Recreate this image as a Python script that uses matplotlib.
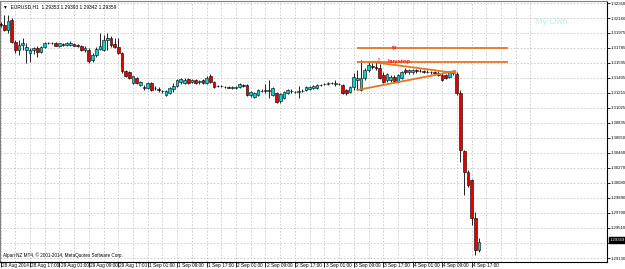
import matplotlib
matplotlib.use("Agg")
import matplotlib.pyplot as plt
import matplotlib.transforms as mtransforms
import numpy as np

# ---------------- data (EURUSD H1, 28 Aug 09:00 .. 4 Sep 19:00) ----------------
opens = [1.32085, 1.32072, 1.32009, 1.32135, 1.31858, 1.31757, 1.31820, 1.31757, 1.31719, 1.31757,
         1.31782, 1.31731, 1.31795, 1.31845, 1.31845, 1.31845, 1.31807, 1.31832, 1.31820, 1.31820,
         1.31832, 1.31820, 1.31807, 1.31757, 1.31757, 1.31630, 1.31694, 1.31769, 1.31757, 1.31883,
         1.31908, 1.31832, 1.31795, 1.31719, 1.31491, 1.31479, 1.31340, 1.31403, 1.31315, 1.31290,
         1.31277, 1.31340, 1.31277, 1.31264, 1.31239, 1.31188, 1.31214, 1.31264, 1.31302, 1.31353,
         1.31340, 1.31390, 1.31353, 1.31378, 1.31353, 1.31378, 1.31340, 1.31428, 1.31353, 1.31302,
         1.31302, 1.31290, 1.31290, 1.31277, 1.31283, 1.31290, 1.31315, 1.31315, 1.31188, 1.31163,
         1.31188, 1.31239, 1.31239, 1.31252, 1.31188, 1.31214, 1.31113, 1.31151, 1.31214, 1.31239,
         1.31226, 1.31226, 1.31239, 1.31252, 1.31264, 1.31277, 1.31277, 1.31315, 1.31327, 1.31327,
         1.31340, 1.31327, 1.31327, 1.31315, 1.31252, 1.31226, 1.31290, 1.31378, 1.31252, 1.31403,
         1.31504, 1.31555, 1.31542, 1.31529, 1.31441, 1.31378, 1.31378, 1.31416, 1.31353, 1.31403,
         1.31504, 1.31479, 1.31479, 1.31504, 1.31491, 1.31491, 1.31479, 1.31479, 1.31479, 1.31466,
         1.31441, 1.31441, 1.31416, 1.31479, 1.31454, 1.31214, 1.30481, 1.30216, 1.30115, 1.29635,
         1.29231]
highs = [1.32110, 1.32199, 1.32199, 1.32161, 1.31883, 1.31883, 1.31908, 1.31845, 1.31782, 1.31795,
         1.31807, 1.31807, 1.31858, 1.31858, 1.31858, 1.31858, 1.31845, 1.31845, 1.31858, 1.31870,
         1.31845, 1.31832, 1.31820, 1.31807, 1.31782, 1.31719, 1.31795, 1.31971, 1.31946, 1.31971,
         1.31933, 1.31908, 1.31908, 1.31731, 1.31504, 1.31491, 1.31428, 1.31416, 1.31365, 1.31315,
         1.31353, 1.31353, 1.31302, 1.31290, 1.31252, 1.31252, 1.31290, 1.31340, 1.31390, 1.31403,
         1.31403, 1.31403, 1.31390, 1.31390, 1.31378, 1.31390, 1.31428, 1.31454, 1.31365, 1.31315,
         1.31315, 1.31302, 1.31302, 1.31302, 1.31302, 1.31340, 1.31327, 1.31327, 1.31239, 1.31226,
         1.31264, 1.31264, 1.31327, 1.31378, 1.31290, 1.31226, 1.31214, 1.31239, 1.31264, 1.31264,
         1.31239, 1.31302, 1.31264, 1.31302, 1.31302, 1.31315, 1.31327, 1.31327, 1.31340, 1.31353,
         1.31353, 1.31378, 1.31340, 1.31327, 1.31264, 1.31302, 1.31466, 1.31504, 1.31630, 1.31529,
         1.31605, 1.31593, 1.31605, 1.31580, 1.31479, 1.31466, 1.31441, 1.31441, 1.31454, 1.31491,
         1.31529, 1.31517, 1.31517, 1.31517, 1.31517, 1.31504, 1.31504, 1.31491, 1.31491, 1.31491,
         1.31466, 1.31454, 1.31491, 1.31504, 1.31479, 1.31252, 1.30494, 1.30241, 1.30128, 1.29711,
         1.29383]
lows = [1.32047, 1.31997, 1.31971, 1.31845, 1.31719, 1.31694, 1.31757, 1.31593, 1.31605, 1.31706,
        1.31668, 1.31719, 1.31782, 1.31832, 1.31832, 1.31807, 1.31795, 1.31807, 1.31807, 1.31807,
        1.31807, 1.31795, 1.31744, 1.31731, 1.31593, 1.31605, 1.31668, 1.31757, 1.31744, 1.31757,
        1.31795, 1.31782, 1.31706, 1.31466, 1.31416, 1.31390, 1.31327, 1.31327, 1.31302, 1.31252,
        1.31264, 1.31239, 1.31252, 1.31226, 1.31214, 1.31176, 1.31201, 1.31226, 1.31290, 1.31327,
        1.31327, 1.31327, 1.31340, 1.31327, 1.31327, 1.31327, 1.31327, 1.31340, 1.31277, 1.31290,
        1.31290, 1.31277, 1.31277, 1.31264, 1.31264, 1.31277, 1.31290, 1.31176, 1.31163, 1.31151,
        1.31176, 1.31226, 1.31214, 1.31151, 1.31176, 1.31087, 1.31087, 1.31138, 1.31201, 1.31214,
        1.31214, 1.31151, 1.31226, 1.31239, 1.31252, 1.31264, 1.31264, 1.31302, 1.31315, 1.31315,
        1.31327, 1.31302, 1.31315, 1.31201, 1.31188, 1.31214, 1.31252, 1.31252, 1.31239, 1.31378,
        1.31479, 1.31517, 1.31504, 1.31390, 1.31340, 1.31353, 1.31353, 1.31353, 1.31340, 1.31390,
        1.31454, 1.31454, 1.31454, 1.31466, 1.31479, 1.31466, 1.31466, 1.31454, 1.31454, 1.31428,
        1.31365, 1.31390, 1.31403, 1.31441, 1.31188, 1.30342, 1.29926, 1.30027, 1.29547, 1.29168,
        1.29206]
closes = [1.32072, 1.32009, 1.32123, 1.31858, 1.31757, 1.31820, 1.31845, 1.31795, 1.31757, 1.31782,
          1.31731, 1.31795, 1.31845, 1.31842, 1.31839, 1.31807, 1.31839, 1.31820, 1.31839, 1.31845,
          1.31807, 1.31807, 1.31757, 1.31782, 1.31618, 1.31694, 1.31769, 1.31807, 1.31883, 1.31908,
          1.31820, 1.31795, 1.31719, 1.31491, 1.31428, 1.31403, 1.31428, 1.31340, 1.31353, 1.31283,
          1.31340, 1.31252, 1.31271, 1.31252, 1.31233, 1.31239, 1.31277, 1.31302, 1.31378, 1.31390,
          1.31384, 1.31340, 1.31378, 1.31340, 1.31365, 1.31340, 1.31403, 1.31353, 1.31290, 1.31296,
          1.31299, 1.31287, 1.31283, 1.31290, 1.31290, 1.31327, 1.31308, 1.31188, 1.31226, 1.31214,
          1.31252, 1.31236, 1.31252, 1.31239, 1.31277, 1.31100, 1.31201, 1.31226, 1.31252, 1.31233,
          1.31223, 1.31239, 1.31245, 1.31290, 1.31290, 1.31302, 1.31315, 1.31321, 1.31324, 1.31340,
          1.31334, 1.31340, 1.31330, 1.31214, 1.31214, 1.31290, 1.31416, 1.31403, 1.31403, 1.31504,
          1.31567, 1.31542, 1.31529, 1.31403, 1.31353, 1.31454, 1.31416, 1.31365, 1.31441, 1.31479,
          1.31479, 1.31504, 1.31504, 1.31491, 1.31488, 1.31479, 1.31485, 1.31476, 1.31466, 1.31441,
          1.31378, 1.31403, 1.31479, 1.31466, 1.31214, 1.30494, 1.30216, 1.30052, 1.29635, 1.29231,
          1.29332]

time_labels = ["28 Aug 2014", "28 Aug 17:00", "29 Aug 01:00", "29 Aug 09:00", "29 Aug 17:00",
               "1 Sep 01:00", "1 Sep 09:00", "1 Sep 17:00", "2 Sep 01:00", "2 Sep 09:00",
               "2 Sep 17:00", "3 Sep 01:00", "3 Sep 09:00", "3 Sep 17:00", "4 Sep 01:00",
               "4 Sep 09:00", "4 Sep 17:00"]
price_ticks = [1.32350, 1.32160, 1.31975, 1.31785, 1.31595, 1.31405, 1.31215, 1.31025, 1.30835,
               1.30650, 1.30460, 1.30270, 1.30080, 1.29890, 1.29700, 1.29510, 1.29320, 1.29130]
price_labels = ["1.32350", "1.32160", "1.31975", "1.31785", "1.31595", "1.31405", "1.31215",
                "1.31025", "1.30835", "1.30650", "1.30460", "1.30270", "1.30080", "1.29890",
                "1.29700", "1.29510", "", "1.29130"]

tp_level = 1.31785
buystop_level = 1.31605
tri_lower = ([97, 123.6], [1.31252, 1.31491])
tri_upper = ([101, 123.6], [1.31605, 1.31466])
line_start, line_end = 97, 138
last_price = "1.29359"
header = "EURUSD,H1  1.29353 1.29393 1.29342 1.29359"

FONT = ["Liberation Sans", "DejaVu Sans"]
plt.rcParams["font.family"] = FONT

# ---------------- figure ----------------
W, H = 625, 269
fig = plt.figure(figsize=(W / 100, H / 100), dpi=100)
ax = fig.add_axes([0, 7 / H, 607 / W, 261 / H])
ax.set_facecolor("white")

n = len(opens)
idx = np.arange(n)
o = np.array(opens); c = np.array(closes); hi = np.array(highs); lo = np.array(lows)

ax.vlines(idx, lo, hi, color="black", linewidth=0.6, zorder=3)
bull = c >= o
body_h = np.maximum(np.abs(c - o), 0.00002)
ax.bar(idx[bull], body_h[bull], bottom=np.minimum(o, c)[bull], width=0.72,
       color="#00D8D8", edgecolor="black", linewidth=0.4, zorder=4)
ax.bar(idx[~bull], body_h[~bull], bottom=np.minimum(o, c)[~bull], width=0.72,
       color="#E80000", edgecolor="black", linewidth=0.4, zorder=4)

orange = "#E8741E"
ax.hlines([tp_level, buystop_level], line_start, line_end, color=orange, linewidth=1.3, zorder=5)
ax.plot(*tri_lower, color=orange, linewidth=1.3, zorder=5)
ax.plot(*tri_upper, color=orange, linewidth=1.3, zorder=5)
ax.text(107.0, tp_level + 0.00003, "tp", color="#FF2020", fontsize=4.2, fontweight="bold",
        ha="center", va="center", zorder=6)
ax.text(108.3, buystop_level + 0.00003, "buystop", color="#FF2020", fontsize=4.2,
        fontweight="bold", ha="center", va="center", zorder=6)
ax.text(102.8, 1.31620, "\u21e9", color="#FF4040", fontsize=5, ha="center", va="center",
        zorder=6, family=["DejaVu Sans"])

# axes limits
xpx = 3.68
ax.set_xlim(-0.5 / xpx, (607 - 0.5) / xpx)
ax.set_ylim(1.32388 - 0.00012627 * 262, 1.32388 - 0.00012627 * 1)

# grid & ticks
ax.set_yticks(price_ticks)
ax.set_yticklabels(price_labels)
ax.set_xticks(np.arange(0, 8 * len(time_labels), 8))
ax.set_xticklabels(time_labels)
ax.set_xticks(np.arange(0, 8 * len(time_labels) + 12, 4), minor=True)
ax.grid(True, which="both", axis="x", color="#C8C8C8", linestyle=(0, (2, 2)), linewidth=0.6, zorder=0)
ax.grid(True, which="major", axis="y", color="#C8C8C8", linestyle=(0, (2, 2)), linewidth=0.6, zorder=0)
ax.tick_params(axis="x", which="minor", length=0)
ax.tick_params(axis="x", which="major", length=3.5, width=0.6, labelsize=3.4, pad=-3.0,
               color="black")
ax.yaxis.tick_right()
ax.tick_params(axis="y", length=2, width=0.6, labelsize=3.1, pad=0.8, color="black")

offset = mtransforms.ScaledTranslation(1.2 / 100, 0, fig.dpi_scale_trans)
for lab in ax.get_xticklabels():
    lab.set_horizontalalignment("left")
    lab.set_transform(lab.get_transform() + offset)

for s in ["left", "top"]:
    ax.spines[s].set_color("#808080")
    ax.spines[s].set_linewidth(0.8)
for s in ["right", "bottom"]:
    ax.spines[s].set_color("black")
    ax.spines[s].set_linewidth(0.8)

# texts
ax.text(3 / 607, 1 - 3 / 261, "\u25bc  " + header, transform=ax.transAxes, fontsize=3.5,
        ha="left", va="top", color="black")
ax.text(3 / 607, 4 / 261, "Alpari NZ MT4, \u00a9 2001-2014, MetaQuotes Software Corp.",
        transform=ax.transAxes, fontsize=3.3, ha="left", va="bottom", color="black")
ax.text(551 / 607, 1 - 21 / 261, "My Own", transform=ax.transAxes, fontsize=6.5,
        ha="center", va="center", color="#B8F2F2")
trans = mtransforms.blended_transform_factory(ax.transAxes, ax.transData)
ax.text(1.004, 1.29359, last_price, transform=trans, fontsize=3.1, color="white",
        ha="left", va="center", zorder=10, clip_on=False,
        bbox=dict(boxstyle="square,pad=0.2", facecolor="black", edgecolor="black"))

fig.savefig("out.png", dpi=100, facecolor="white")
